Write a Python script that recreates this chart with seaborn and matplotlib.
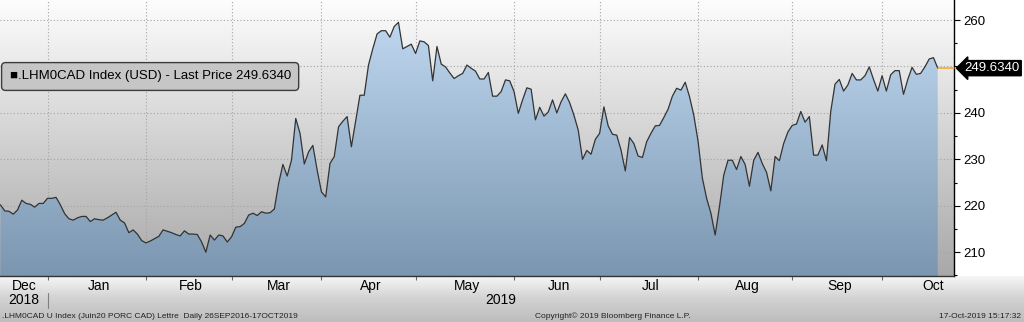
import numpy as np
import pandas as pd
import matplotlib
matplotlib.use("Agg")
import matplotlib.pyplot as plt
import matplotlib.transforms as mtransforms
from matplotlib.colors import LinearSegmentedColormap
from matplotlib.lines import Line2D
from matplotlib.ticker import MultipleLocator
import seaborn as sns

# ---------------- data ----------------
start_date = "2018-12-14"
end_date = "2019-10-17"

price_dec = [220.2, 218.9, 218.8, 218.2, 219.1, 221.2, 220.5, 220.3, 219.7, 220.5, 220.5, 221.6]
price_jan = [221.6, 221.8, 220.2, 218.3, 217.2, 216.9, 217.4, 217.7, 217.7, 216.6, 217.2, 217.0,
             216.9, 217.4, 218.0, 218.6, 216.9, 216.3, 214.2, 214.8, 213.9, 212.5, 212.0]
price_feb = [212.4, 212.9, 213.4, 214.8, 214.5, 214.2, 213.8, 213.5, 214.6, 213.9, 213.9, 213.8,
             212.2, 210.0, 213.7, 212.6, 213.7, 213.5, 212.2, 213.3]
price_mar = [215.4, 215.5, 216.2, 218.0, 218.4, 217.9, 218.7, 218.4, 218.5, 219.3, 224.8, 228.9,
             226.4, 229.8, 238.8, 235.6, 229.0, 231.6, 233.0, 227.7, 223.0]
price_apr = [221.9, 229.1, 230.6, 237.0, 238.2, 239.2, 232.7, 238.3, 243.8, 243.8, 250.3, 253.8,
             257.0, 257.7, 257.7, 256.3, 258.6, 259.5, 253.8, 254.3, 254.8, 252.8]
price_may = [255.5, 255.3, 254.5, 246.9, 254.3, 250.5, 249.9, 248.6, 247.4, 248.0, 248.5, 250.3,
             249.6, 249.0, 247.3, 247.3, 248.7, 243.6, 243.6, 244.6, 247.1, 246.9, 244.6]
price_jun = [239.9, 242.8, 245.4, 245.1, 238.5, 241.2, 239.3, 240.2, 242.8, 240.0, 242.4, 244.1,
             242.2, 239.5, 236.3, 230.0, 231.9, 231.1, 234.3, 235.6]
price_jul = [241.3, 237.2, 235.4, 235.2, 232.0, 227.5, 234.7, 233.4, 230.7, 230.4, 233.8, 235.6,
             237.2, 237.3, 239.0, 240.8, 243.6, 245.3, 244.9, 246.6, 243.5, 239.5, 233.9]
price_aug = [226.0, 221.6, 218.4, 213.7, 219.8, 226.6, 229.8, 229.8, 227.8, 230.6, 228.9, 224.2,
             229.8, 231.5, 229.1, 227.2, 223.2, 230.6, 229.7, 233.4, 235.9, 237.3]
price_sep = [237.6, 240.3, 238.0, 239.2, 230.9, 230.9, 233.1, 229.7, 240.3, 246.2, 247.2, 244.7,
             246.0, 248.5, 247.1, 247.1, 248.0, 249.9, 247.2, 244.7, 248.0]
price_oct = [244.7, 248.2, 249.1, 249.1, 244.0, 247.2, 249.8, 248.3, 248.5, 249.9, 251.6, 251.9,
             249.634]

month_labels = ["Dec", "Jan", "Feb", "Mar", "Apr", "May", "Jun", "Jul", "Aug", "Sep", "Oct"]
year_labels = ["2018", "2019"]
y_ticks = [210, 220, 230, 240, 250, 260]
legend_text = "\u25A0.LHM0CAD Index (USD) - Last Price 249.6340"
last_price_text = "249.6340"
footer_left = ".LHM0CAD U Index (Juin20 PORC CAD) Lettre  Daily 26SEP2016-17OCT2019"
footer_mid = "Copyright\u00A9 2019 Bloomberg Finance L.P."
footer_right = "17-Oct-2019 15:17:32"

# ---------------- build table ----------------
prices = (price_dec + price_jan + price_feb + price_mar + price_apr + price_may +
          price_jun + price_jul + price_aug + price_sep + price_oct)
dates = pd.bdate_range(start_date, end_date)
start = np.datetime64(start_date, "D")
pos = np.busday_count(start, dates.values.astype("datetime64[D]"))
df = pd.DataFrame({"pos": pos, "price": prices})

# ---------------- style ----------------
sns.set_theme(style="white")
plt.rcParams["font.family"] = ["Liberation Sans", "DejaVu Sans"]

W, H = 1024, 322
AX_R, AX_B = 954, 276
fig = plt.figure(figsize=(W / 100, H / 100), dpi=100)
fig.patch.set_facecolor("white")

strip = fig.add_axes([0, 0, 1, 1 - AX_B / H], zorder=-1)
strip_cmap = LinearSegmentedColormap.from_list("strip", ["#f8f8f8", "#d2d2d2", "#bdbdbd"])
strip.imshow(np.linspace(0, 1, 100).reshape(-1, 1), cmap=strip_cmap, aspect="auto",
             extent=[0, 1, 0, 1])
strip.axis("off")

ax = fig.add_axes([0, 1 - AX_B / H, AX_R / W, AX_B / H])
xmin, xmax = -0.1, 222.8
ymin, ymax = 204.87, 264.31

grad = np.linspace(0, 1, 256).reshape(-1, 1)
bg_cmap = LinearSegmentedColormap.from_list("bg", ["#fdfdfd", "#a8a8a8"])
ax.imshow(grad, cmap=bg_cmap, aspect="auto", extent=[xmin, xmax, ymin, ymax], zorder=0)

fill_cmap = LinearSegmentedColormap.from_list("fill", ["#c4dcf4", "#7b96b0"])
poly = ax.fill_between(df["pos"], df["price"], ymin, facecolor="none", edgecolor="none", zorder=1)
fill_im = ax.imshow(grad, cmap=fill_cmap, aspect="auto", extent=[xmin, xmax, ymin, ymax], zorder=1)
fill_im.set_clip_path(poly.get_paths()[0], transform=ax.transData)

sns.lineplot(data=df, x="pos", y="price", ax=ax, color="#333333", linewidth=0.9, zorder=3)
ax.plot([df["pos"].iloc[-1], xmax], [prices[-1], prices[-1]], color="#f5a623", lw=1.1,
        zorder=3, clip_on=False)

ax.set_xlim(xmin, xmax)
ax.set_ylim(ymin, ymax)
ax.set_xlabel("")
ax.set_ylabel("")

# month positions
months = pd.period_range("2018-12", "2019-10", freq="M")
month_end_pos, label_pos = [], []
for p in months:
    bd = pd.bdate_range(p.start_time.normalize(), p.end_time.normalize())
    first = np.busday_count(start, np.datetime64(bd[0].date(), "D"))
    last = np.busday_count(start, np.datetime64(bd[-1].date(), "D"))
    label_pos.append((max(first, xmin) + last) / 2)
    if last < xmax:
        month_end_pos.append(last)

ax.set_axisbelow(True)
ax.set_xticks(month_end_pos)
ax.set_xticklabels([])
ax.set_xticks(label_pos, minor=True)
ax.set_xticklabels(month_labels, minor=True)
ax.tick_params(axis="x", which="major", direction="out", length=3, width=0.8,
               color="#666666", bottom=True)
ax.tick_params(axis="x", which="minor", length=0, pad=2.5, labelsize=10, labelcolor="black",
               bottom=True)

ax.yaxis.tick_right()
ax.set_yticks(y_ticks)
ax.set_yticklabels(["" if t == 250 else str(t) for t in y_ticks])
ax.yaxis.set_minor_locator(MultipleLocator(5))
ax.tick_params(axis="y", which="major", direction="out", length=4, width=0.8, color="black",
               pad=3, labelsize=9.5, labelcolor="black", right=True, left=False)
ax.tick_params(axis="y", which="minor", direction="out", length=2.5, width=0.8, color="black",
               right=True, left=False)

ax.grid(True, which="major", color="#a4a4a4", linestyle=(0, (1, 2)), linewidth=0.8)

for s in ["top", "left"]:
    ax.spines[s].set_visible(False)
ax.spines["bottom"].set_color("#333333")
ax.spines["bottom"].set_linewidth(1.0)
ax.spines["right"].set_color("black")
ax.spines["right"].set_linewidth(1.0)

# legend box
ax.text(9.5 / AX_R, 1 - 76.5 / AX_B, legend_text, transform=ax.transAxes, fontsize=9.5,
        ha="left", va="center", color="black", zorder=10,
        bbox=dict(boxstyle="round,pad=0.6,rounding_size=0.3", fc="#c6c6c6", ec="#3c3c3c", lw=1.0))

# last price tag
ax.annotate(last_price_text, xy=(1, prices[-1]), xycoords=("axes fraction", "data"),
            xytext=(7.5, 0), textcoords="offset points", ha="left", va="center",
            color="white", fontsize=9.5, zorder=10, annotation_clip=False,
            bbox=dict(boxstyle="larrow,pad=0.12", fc="black", ec="black"))

# year labels and separator
trans = mtransforms.blended_transform_factory(ax.transData, fig.transFigure)
year_y = 1 - 300 / H
fig.text(label_pos[0], year_y, year_labels[0], transform=trans, ha="center", va="center",
         fontsize=10, color="black")
fig.text((month_end_pos[0] + xmax) / 2, year_y, year_labels[1], transform=trans, ha="center",
         va="center", fontsize=10, color="black")
fig.add_artist(Line2D([month_end_pos[0], month_end_pos[0]], [1 - 308 / H, 1 - 293 / H],
                      transform=trans, color="#808080", lw=0.8))

# footer
foot_y = 1 - 316 / H
fig.text(2 / W, foot_y, footer_left, fontsize=6, ha="left", va="center", color="#222222")
fig.text(535 / W, foot_y, footer_mid, fontsize=6, ha="left", va="center", color="#222222")
fig.text(1021 / W, foot_y, footer_right, fontsize=6, ha="right", va="center", color="#222222")

fig.savefig("out.png", dpi=100)
